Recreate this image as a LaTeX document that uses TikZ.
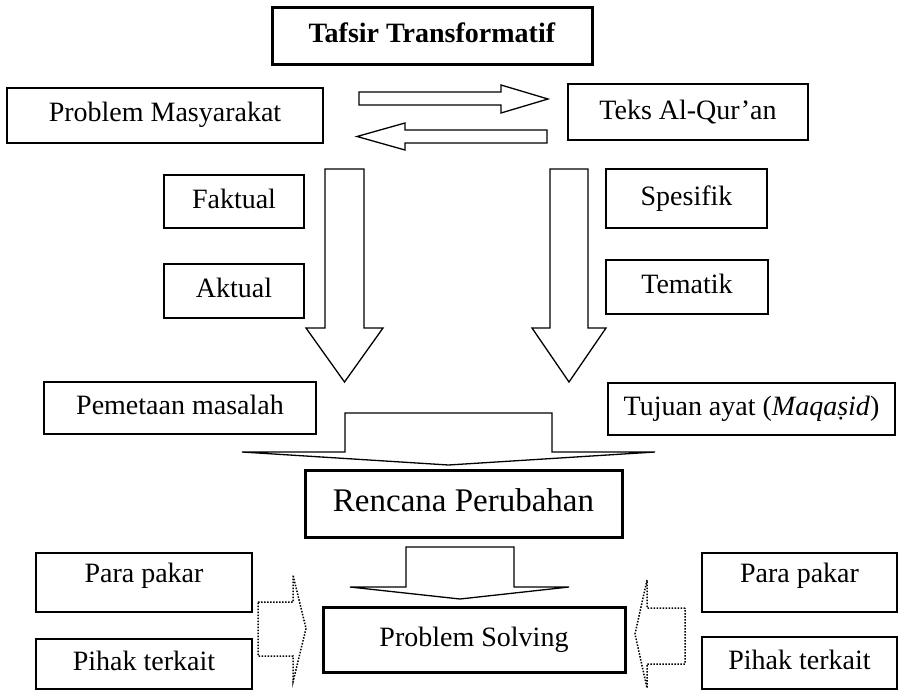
\documentclass[tikz,border=0pt]{standalone}
\usepackage{fontspec}
\setmainfont{Liberation Serif}
\usetikzlibrary{positioning}

\tikzset{
  kotak/.style={draw,line width=1.3pt,inner sep=2pt,align=center,
    text height=19pt,text depth=6pt,font=\fontsize{28}{32}\selectfont},
  kotaktebal/.style={kotak,line width=3pt},
  panah/.style={draw,line width=1.3pt,fill=white,line join=miter},
  panahtitik/.style={draw,line width=1.5pt,dash pattern=on 1.5pt off 1.5pt,fill=white}
}

\begin{document}
\begin{tikzpicture}[x=1pt,y=-1pt]
  \useasboundingbox (0,0) rectangle (899,690);

  % judul
  \node[kotaktebal,minimum width=320pt,minimum height=57pt] (judul) at (432,36.5) {\textbf{Tafsir Transformatif}};

  % baris atas
  \node[kotak,minimum width=316pt,minimum height=55pt] (masalah) at (165,115.5) {Problem Masyarakat};
  \node[kotak,minimum width=240pt,minimum height=56pt,text depth=3pt] (teks) at (688,112) {Teks Al-Qur’an};
  \path[panah] (359,92) -- (501,92) -- (501,85) -- (548,99) -- (501,113) -- (501,105) -- (359,105) -- cycle;
  \path[panah] (547,130) -- (405,130) -- (405,123) -- (357,136.5) -- (405,150) -- (405,143) -- (547,143) -- cycle;

  % kiri: faktual, aktual
  \node[kotak,minimum width=140pt,minimum height=53pt] (faktual) at (234,201.5) {Faktual};
  \node[kotak,minimum width=140pt,minimum height=54pt] (aktual) at (234,291) {Aktual};
  \path[panah] (325,169) -- (364,169) -- (364,328) -- (383,328) -- (344.5,382) -- (306,328) -- (325,328) -- cycle;

  % kanan: spesifik, tematik
  \node[kotak,minimum width=161pt,minimum height=59pt] (spesifik) at (686.5,198.5) {Spesifik};
  \node[kotak,minimum width=162pt,minimum height=54pt] (tematik) at (687,287) {Tematik};
  \path[panah] (550,169) -- (588,169) -- (588,328) -- (606,328) -- (569,382) -- (532,328) -- (550,328) -- cycle;

  \node[kotak,minimum width=272pt,minimum height=52pt] (pemetaan) at (180,408) {Pemetaan masalah};
  \node[kotak,minimum width=287pt,minimum height=52pt] (tujuan) at (751.5,409) {Tujuan ayat (\textit{Maqaṣid})};

  % gabungan ke rencana
  \path[panah] (345,413) -- (552,413) -- (552,452) -- (655,452) -- (448.5,465) -- (242,452) -- (345,452) -- cycle;
  \node[kotaktebal,minimum width=317pt,minimum height=67pt,text height=23pt,text depth=7pt,
    font=\fontsize{33}{38}\selectfont] (rencana) at (463.5,503.5) {Rencana Perubahan};
  \path[panah] (406,547) -- (514,547) -- (514,587) -- (569,587) -- (460,599) -- (350,587) -- (406,587) -- cycle;
  \node[kotaktebal,minimum width=302pt,minimum height=65pt] (solving) at (474,639.5) {Problem Solving};

  % pihak luar
  \node[kotak,minimum width=216pt,minimum height=59pt,text depth=20pt] (pakarkiri) at (144,582.5) {Para pakar};
  \node[kotak,minimum width=216pt,minimum height=50pt] (pihakkiri) at (144,664) {Pihak terkait};
  \node[kotak,minimum width=195pt,minimum height=59pt,text depth=20pt] (pakarkanan) at (799.5,582.5) {Para pakar};
  \node[kotak,minimum width=195pt,minimum height=52pt] (pihakkanan) at (799.5,663) {Pihak terkait};
  \path[panahtitik] (258,602) -- (293,602) -- (293,575) -- (306,628.5) -- (293,682) -- (293,656) -- (258,656) -- cycle;
  \path[panahtitik] (685,608) -- (647,608) -- (647,580) -- (635,634) -- (647,688) -- (647,664) -- (685,664) -- cycle;
\end{tikzpicture}
\end{document}
